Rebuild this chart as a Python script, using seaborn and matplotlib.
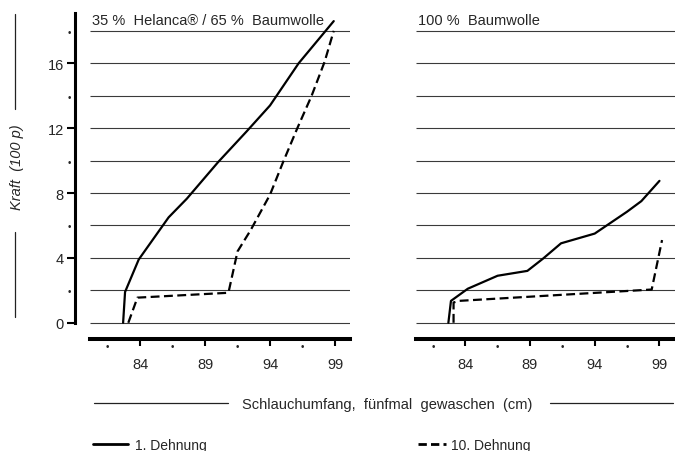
import matplotlib
matplotlib.use("Agg")
import matplotlib.pyplot as plt
from matplotlib.lines import Line2D
import seaborn as sns
import pandas as pd

# ── Data ──────────────────────────────────────────────────────────────────────

left_solid_x = [82.7, 82.85, 83.9, 86.2, 87.6, 90.0, 92.2, 94.0, 96.2, 98.9]
left_solid_y = [0, 1.9, 3.9, 6.5, 7.65, 9.9, 11.8, 13.4, 16.0, 18.6]

left_dash_x = [83.1, 83.8, 90.8, 91.5, 92.5, 94.0, 95.0, 96.1, 97.2, 98.2, 98.9]
left_dash_y = [0, 1.55, 1.85, 4.4, 5.7, 7.9, 9.9, 12.0, 14.0, 16.1, 18.0]

right_solid_x = [82.7, 82.9, 84.2, 86.5, 88.8, 90.0, 91.4, 94.0, 96.5, 97.6, 99.0]
right_solid_y = [0, 1.35, 2.1, 2.9, 3.2, 3.95, 4.9, 5.5, 6.85, 7.5, 8.75]

right_dash_x = [83.1, 83.1, 83.5, 98.4, 99.2]
right_dash_y = [0, 1.25, 1.35, 2.05, 5.1]

runs = ["1. Dehnung", "10. Dehnung"]
panel_titles = ["35 %  Helanca® / 65 %  Baumwolle", "100 %  Baumwolle"]
x_major = [84, 89, 94, 99]
x_minor = [81.5, 86.5, 91.5, 96.5]
y_major = [0, 4, 8, 12, 16]
y_minor = [2, 6, 10, 14, 18]
grid_levels = list(range(0, 19, 2))


def make_frame(xs_solid, ys_solid, xs_dash, ys_dash):
    a = pd.DataFrame({"x": xs_solid, "y": ys_solid, "run": runs[0]})
    b = pd.DataFrame({"x": xs_dash, "y": ys_dash, "run": runs[1]})
    return pd.concat([a, b], ignore_index=True)


sns.set_style("white")
plt.rcParams["font.family"] = ["Liberation Sans", "DejaVu Sans"]

W, H = 675, 452
fig = plt.figure(figsize=(W / 100, H / 100), dpi=100)


def fx(px):
    return px / W


def fy(py):
    return 1 - py / H


# axes placed in pixel terms: bottom edge at y=340 (value -1)
ax1 = fig.add_axes([fx(75), fy(340), fx(275), 326 / H])
ax2 = fig.add_axes([fx(416), fy(340), fx(259), 326 / H])

frames = [
    make_frame(left_solid_x, left_solid_y, left_dash_x, left_dash_y),
    make_frame(right_solid_x, right_solid_y, right_dash_x, right_dash_y),
]
xlims = [(79.0, 100.15), (80.2, 100.2)]

for ax, df, title, (x0, x1) in zip([ax1, ax2], frames, panel_titles, xlims):
    ax.set_xlim(x0, x1)
    ax.set_ylim(-1, 19.1)
    gx0 = x1 - 20.0
    ax.hlines(grid_levels, gx0, x1, color="#3a3a3a", lw=0.8, zorder=1)
    sns.lineplot(data=df, x="x", y="y", style="run",
                 dashes={runs[0]: "", runs[1]: (4, 2)},
                 sort=False, estimator=None, color="black", lw=1.6,
                 legend=False, ax=ax, zorder=3)
    ax.text(gx0 + 0.12, 18.4, title, fontsize=10.5, ha="left", va="baseline")

    for side in ["top", "right", "left"]:
        ax.spines[side].set_visible(False)
    ax.spines["bottom"].set_bounds(gx0, x1)
    ax.spines["bottom"].set_linewidth(2.9)
    ax.spines["bottom"].set_color("black")

    ax.set_xticks(x_major)
    ax.set_xticklabels([str(v) for v in x_major])
    ax.set_xticks(x_minor, labels=["•"] * len(x_minor), minor=True)
    ax.tick_params(axis="x", which="major", bottom=True, direction="out",
                   length=5, width=1.5, color="black", pad=8, labelsize=10.5)
    ax.tick_params(axis="x", which="minor", bottom=True, length=0, pad=1.5,
                   labelsize=7)
    ax.set_xlabel("")
    ax.set_ylabel("")

# left y axis
ax1.spines["left"].set_visible(True)
ax1.spines["left"].set_bounds(0, 19.1)
ax1.spines["left"].set_linewidth(2.2)
ax1.spines["left"].set_color("black")
ax1.set_yticks(y_major)
ax1.set_yticklabels([str(v) for v in y_major])
ax1.set_yticks(y_minor, labels=["•"] * len(y_minor), minor=True)
ax1.tick_params(axis="y", which="major", left=True, direction="out",
                length=6, width=1.5, color="black", pad=2, labelsize=10.5)
ax1.tick_params(axis="y", which="minor", left=True, length=0, pad=3,
                labelsize=7)
ax2.set_yticks([])

# y label with rules above and below
fig.text(fx(17), fy(167), "Kraft  (100 p)", rotation=90, style="italic",
         fontsize=10.5, ha="center", va="center")
for y_a, y_b in [(15, 110), (233, 318)]:
    fig.add_artist(Line2D([fx(15), fx(15)], [fy(y_a), fy(y_b)],
                          transform=fig.transFigure, color="#222", lw=0.9))

# x label with rules left and right
fig.text(fx(387), fy(405), "Schlauchumfang,  fünfmal  gewaschen  (cm)",
         fontsize=10.5, ha="center", va="center")
for x_a, x_b in [(94, 228), (550, 673)]:
    fig.add_artist(Line2D([fx(x_a), fx(x_b)], [fy(404), fy(404)],
                          transform=fig.transFigure, color="#222", lw=0.9))

# legend, split into two groups like the original
solid_h = Line2D([], [], color="black", lw=2.0, label=runs[0])
dash_h = Line2D([], [], color="black", lw=2.0, dashes=(3, 1.5), label=runs[1])
leg1 = fig.legend(handles=[solid_h], loc="center left",
                  bbox_to_anchor=(fx(93), fy(446)), frameon=False,
                  borderpad=0, borderaxespad=0, handlelength=2.5,
                  handletextpad=0.5, fontsize=10)
leg2 = fig.legend(handles=[dash_h], loc="center left",
                  bbox_to_anchor=(fx(418), fy(446)), frameon=False,
                  borderpad=0, borderaxespad=0, handlelength=2.0,
                  handletextpad=0.4, fontsize=10)

fig.savefig("out.png", dpi=100)
